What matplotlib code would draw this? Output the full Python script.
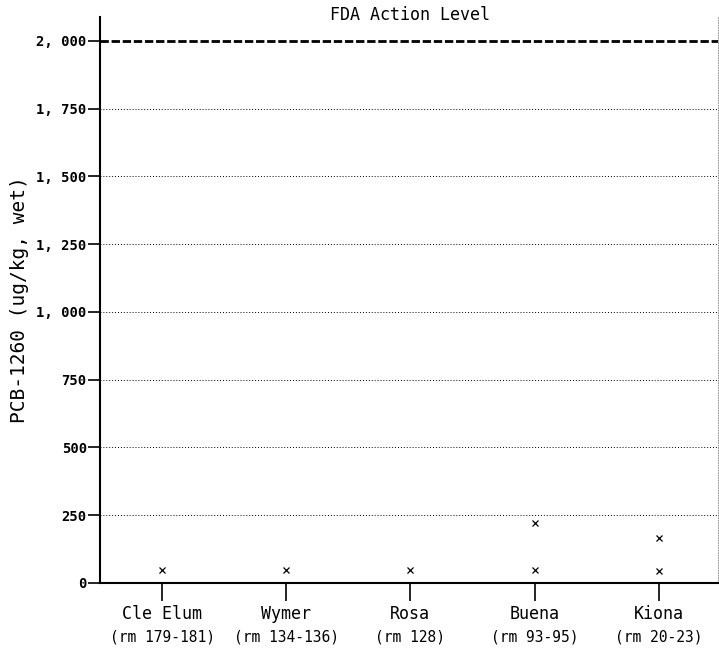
import numpy as np
import matplotlib
matplotlib.use('Agg')
import matplotlib.pyplot as plt

# 采样站点和河里程
sites = ['Cle Elum', 'Wymer', 'Rosa', 'Buena', 'Kiona']
river_miles = ['(rm 179-181)', '(rm 134-136)', '(rm 128)', '(rm 93-95)', '(rm 20-23)']

# 每个站点的 PCB-1260 测量值 (ug/kg, wet)
cle_elum = [48]
wymer = [48]
rosa = [46]
buena = [221, 46]
kiona = [166, 44]
site_values = [cle_elum, wymer, rosa, buena, kiona]

y_ticks = [0, 250, 500, 750, 1000, 1250, 1500, 1750, 2000]
y_tick_labels = ['0', '250', '500', '750', '1, 000', '1, 250', '1, 500', '1, 750', '2, 000']
action_level = 2000

plt.rcParams['font.family'] = ['DejaVu Sans Mono']

fig = plt.figure(figsize=(7.19, 6.6), dpi=100)
ax = fig.add_axes([0.139, 0.117, 0.86, 0.857])

# 散点
for i, vals in enumerate(site_values):
    ax.plot([i] * len(vals), vals, linestyle='none', marker='x',
            markersize=5, markeredgewidth=0.9, color='black')

# 网格线 (点线)
for yv in y_ticks[1:-1]:
    ax.axhline(yv, color='black', linestyle=(0, (1, 2)), linewidth=0.7, zorder=0)

# FDA 行动水平 (粗虚线)
ax.axhline(action_level, color='black', linestyle=(0, (3, 1)), linewidth=2.0)
ax.text(2, 2095, 'FDA Action Level', ha='center', va='center', fontsize=12)

ax.set_xlim(-0.5, 4.48)
ax.set_ylim(0, 2088)

ax.set_yticks(y_ticks)
ax.set_yticklabels(y_tick_labels, fontsize=10, fontweight='bold')
ax.set_xticks(range(len(sites)))
ax.set_xticklabels(sites, fontsize=12)
ax.tick_params(axis='y', length=9, width=1.2, pad=0.5)
ax.tick_params(axis='x', length=13, width=1.2, pad=3)

# 第二行: 河里程
for i, rm in enumerate(river_miles):
    ax.text(i, -0.082, rm, transform=ax.get_xaxis_transform(),
            ha='center', va='top', fontsize=10.5)

ax.set_ylabel('PCB-1260 (ug/kg, wet)', fontsize=14, va='center')
ax.yaxis.set_label_coords(-0.13, 0.5)

ax.spines['top'].set_visible(False)
ax.spines['right'].set_linestyle((0, (1, 2)))
ax.spines['right'].set_linewidth(0.6)
ax.spines['right'].set_color('gray')
ax.spines['left'].set_linewidth(1.5)
ax.spines['bottom'].set_linewidth(1.5)

fig.savefig('out.png', dpi=100)
